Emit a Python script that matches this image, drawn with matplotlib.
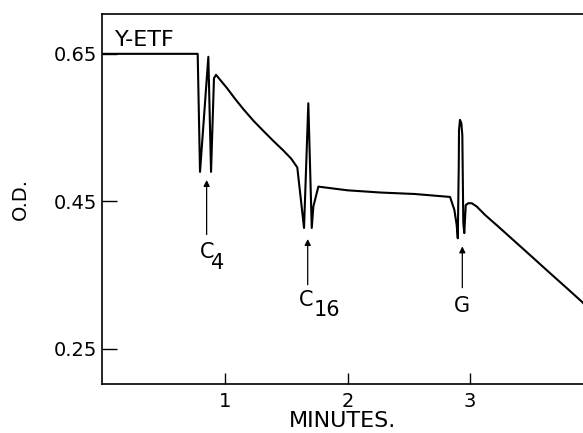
import matplotlib
matplotlib.use("Agg")
import matplotlib.pyplot as plt

# trace (minutes, O.D.)
minutes = [0.0, 0.777, 0.796, 0.864, 0.886, 0.910, 0.927, 0.959, 1.014, 1.082,
           1.150, 1.231, 1.313, 1.394, 1.476, 1.540, 1.590, 1.645, 1.680, 1.708,
           1.721, 1.762, 1.857, 2.0, 2.27, 2.55, 2.837, 2.872, 2.891, 2.900,
           2.908, 2.910, 2.918, 2.929, 2.937, 2.945, 2.953, 2.965, 2.986, 3.014,
           3.055, 3.122, 3.231, 3.367, 3.504, 3.639, 3.776, 3.912, 3.93]
od = [0.650, 0.650, 0.490, 0.646, 0.490, 0.617, 0.6215, 0.6150, 0.6040, 0.5890,
      0.5750, 0.5595, 0.5455, 0.5320, 0.5190, 0.5080, 0.496, 0.414, 0.583, 0.414,
      0.443, 0.470, 0.468, 0.465, 0.462, 0.460, 0.456, 0.4385, 0.418, 0.400,
      0.50, 0.547, 0.5605, 0.556, 0.540, 0.421, 0.407, 0.445, 0.4475, 0.4475,
      0.443, 0.4317, 0.4158, 0.3955, 0.3751, 0.3548, 0.3345, 0.3141, 0.311]

# additions: main letter, subscript, arrow x, arrow tip y, arrow tail y
add_main = ["C", "C", "G"]
add_sub = ["4", "16", ""]
add_x = [0.85, 1.675, 2.937]
add_tip = [0.479, 0.399, 0.389]
add_tail = [0.405, 0.337, 0.333]

xticks = [1, 2, 3]
yticks = [0.25, 0.45, 0.65]

plt.rcParams["font.family"] = ["DejaVu Sans"]

fig = plt.figure(figsize=(5.83, 4.33), dpi=100)
ax = fig.add_axes([0.1758, 0.1132, 0.8242, 0.8545])

ax.plot(minutes, od, color="black", lw=1.5, solid_joinstyle="round")

# label offsets in pixels from the arrow tail
main_off = [(0, -7), (-2, -5), (0, -8)]
sub_off = [(11, -18), (19, -15), (0, 0)]

for i in range(len(add_main)):
    x, tip, tail = add_x[i], add_tip[i], add_tail[i]
    ax.annotate("", xy=(x, tip), xytext=(x, tail),
                arrowprops=dict(arrowstyle="-|>", color="black", lw=0.9,
                                mutation_scale=9, shrinkA=0, shrinkB=0))
    ax.annotate(add_main[i], xy=(x, tail), xytext=main_off[i],
                textcoords="offset pixels", ha="center", va="top", fontsize=15)
    if add_sub[i]:
        ax.annotate(add_sub[i], xy=(x, tail), xytext=sub_off[i],
                    textcoords="offset pixels", ha="center", va="top", fontsize=15)

ax.text(0.1, 0.669, "Y-ETF", ha="left", va="center", fontsize=16)

ax.set_xlim(0, 3.922)
ax.set_ylim(0.2025, 0.704)
ax.set_xticks(xticks)
ax.set_xticklabels([str(t) for t in xticks], fontsize=14)
ax.set_yticks(yticks)
ax.set_yticklabels(["%.2f" % t for t in yticks], fontsize=14)
ax.tick_params(axis="y", direction="in", length=11, width=1, pad=4)
ax.tick_params(axis="x", direction="in", length=8, width=1, pad=6)

ax.spines["right"].set_visible(False)
for s in ["left", "top", "bottom"]:
    ax.spines[s].set_linewidth(1.2)

ax.set_xlabel("MINUTES.", fontsize=16, labelpad=0)
ax.set_ylabel("O.D.", fontsize=14, labelpad=17)

fig.savefig("out.png", dpi=100)
